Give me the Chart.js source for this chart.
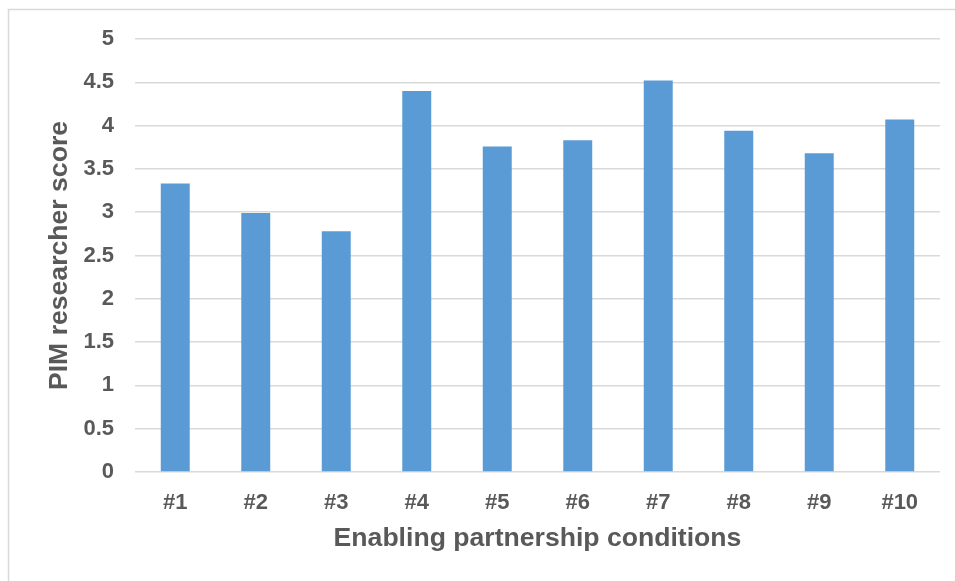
<!DOCTYPE html>
<html>
<head>
<meta charset="utf-8">
<script src="https://cdn.jsdelivr.net/npm/chart.js@4/dist/chart.umd.min.js"></script>
<style>
  html, body { margin: 0; padding: 0; background: #ffffff; }
  #wrap { width: 955px; height: 581px; position: relative; }
</style>
</head>
<body>
<div id="wrap"><canvas id="c" width="955" height="581"></canvas></div>
<script>
// Mean PIM researcher score per enabling partnership condition
const conditions = ['#1', '#2', '#3', '#4', '#5', '#6', '#7', '#8', '#9', '#10'];
const scores = [3.33, 2.99, 2.78, 4.40, 3.76, 3.83, 4.52, 3.94, 3.68, 4.07];
const yTicks = [0, 0.5, 1, 1.5, 2, 2.5, 3, 3.5, 4, 4.5, 5];

const textColor = '#595959';
const gridColor = '#d9d9d9';
const fontFamily = 'Liberation Sans, Arial, sans-serif';

// Light frame around the chart (top and left edges are visible in the canvas)
const framePlugin = {
  id: 'frame',
  beforeDraw(chart) {
    const ctx = chart.ctx;
    ctx.save();
    ctx.strokeStyle = '#d9d9d9';
    ctx.lineWidth = 1.5;
    ctx.strokeRect(8.5, 9.5, 1000, 1000);
    ctx.restore();
  }
};

new Chart(document.getElementById('c'), {
  type: 'bar',
  data: {
    labels: conditions,
    datasets: [{
      data: scores,
      backgroundColor: '#5b9bd5',
      borderWidth: 0,
      barPercentage: 0.36,
      categoryPercentage: 1.0
    }]
  },
  options: {
    responsive: false,
    animation: false,
    layout: { padding: { top: 39, right: 15, left: 0, bottom: 0 } },
    plugins: { legend: { display: false }, tooltip: { enabled: false } },
    scales: {
      x: {
        grid: { display: false, drawTicks: false },
        border: { display: false },
        ticks: {
          color: textColor,
          font: { family: fontFamily, size: 22, weight: 'bold' },
          padding: 17.5
        },
        title: {
          display: true,
          text: 'Enabling partnership conditions',
          color: textColor,
          font: { family: fontFamily, size: 26.6, weight: 'bold' },
          padding: { top: 0, bottom: 26 }
        },
        afterFit(scale) { scale.height = 109; }
      },
      y: {
        min: 0,
        max: 5,
        afterBuildTicks(scale) { scale.ticks = yTicks.map(v => ({ value: v })); },
        grid: { color: gridColor, lineWidth: 1.5, drawTicks: false },
        border: { display: false },
        ticks: {
          color: textColor,
          font: { family: fontFamily, size: 22, weight: 'bold' },
          padding: 21,
          callback: v => String(v)
        },
        title: {
          display: true,
          text: 'PIM researcher score',
          color: textColor,
          font: { family: fontFamily, size: 26.6, weight: 'bold' },
          padding: { top: 44, bottom: 0 }
        },
        afterFit(scale) { scale.width = 135; }
      }
    }
  },
  plugins: [framePlugin]
});
</script>
</body>
</html>
